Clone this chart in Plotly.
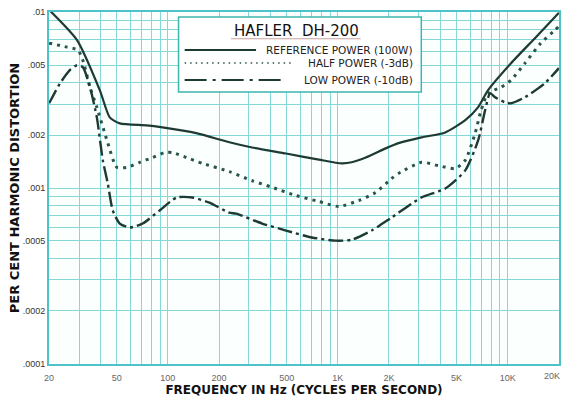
import numpy as np
import plotly.graph_objects as go

# ---------------- data ----------------
ref_freq = [20, 29.2, 39.8, 45.5, 52.1, 75, 93, 147, 230, 313, 496, 774, 1055, 1208,
            1460, 1910, 2277, 3105, 4290, 5625, 6700, 7660, 10450, 14450, 20000]
ref_thd = [0.0103, 0.00693, 0.00359, 0.00252, 0.00233, 0.00227, 0.00221, 0.00205, 0.00182,
           0.00170, 0.00157, 0.00145, 0.00138, 0.00140, 0.00149, 0.00168, 0.00180, 0.00194,
           0.00207, 0.00243, 0.00288, 0.00360, 0.00512, 0.00711, 0.0099]

half_freq = [20, 25.5, 29.6, 31.6, 34.8, 38.2, 43.8, 50.1, 57.3, 68.3, 81.3, 95.7, 106.5,
             128.6, 159.6, 230, 313, 410, 567, 774, 1014, 1328, 1668, 2069, 2277, 3105,
             3905, 4910, 5625, 6430, 6970, 7660, 9140, 10450, 12620, 15660, 18920, 20000]
half_thd = [0.00666, 0.00632, 0.00608, 0.00533, 0.00374, 0.00288, 0.00187, 0.00131, 0.00131,
            0.00140, 0.00149, 0.00159, 0.00159, 0.00149, 0.00138, 0.00124, 0.00110, 0.00101,
            0.000906, 0.000838, 0.000785, 0.000849, 0.000943, 0.00113, 0.00121, 0.00140,
            0.00134, 0.00129, 0.00144, 0.00205, 0.00277, 0.00346, 0.00374, 0.00410, 0.00512,
            0.00666, 0.00789, 0.0083]

low_freq = [20, 23.2, 26.5, 29.2, 31.6, 34.8, 38.2, 41.4, 44.3, 47.4, 52.1, 59.7, 71.1, 89.4,
            112.5, 139.5, 175.5, 230, 252.6, 359, 496, 704, 973, 1208, 1582, 2069, 3105,
            4290, 5625, 6700, 7360, 7870, 8425, 9630, 10450, 12620, 16530, 20000]
low_thd = [0.00303, 0.00394, 0.00468, 0.00499, 0.00486, 0.00374, 0.00252, 0.00144, 0.00106,
           0.000745, 0.000628, 0.000596, 0.000628, 0.000745, 0.000883, 0.000883, 0.000826,
           0.000724, 0.000715, 0.000628, 0.000573, 0.000523, 0.000502, 0.000508, 0.000573,
           0.000679, 0.000883, 0.000994, 0.00126, 0.00187, 0.00277, 0.00346, 0.00328,
           0.00307, 0.00303, 0.00328, 0.00394, 0.0048]

x_tick_vals = [20, 50, 100, 200, 500, 1000, 2000, 5000, 10000, 20000]
x_tick_text = ["20", "50", "100", "200", "500", "1K", "2K", "5K", "10K", "20K"]
y_tick_vals = [0.0001, 0.0002, 0.0005, 0.001, 0.002, 0.005, 0.01]
y_tick_text = [".0001", ".0002", ".0005", ".001", ".002", ".005", ".01"]

legend_title = "HAFLER  DH-200"
series_names = ["REFERENCE POWER (100W)", "HALF POWER (-3dB)", "LOW POWER (-10dB)"]

# ---------------- grid values ----------------
x_grid = [d * 10 ** e for e in range(1, 5) for d in range(1, 10)]
x_grid = [v for v in x_grid if 20 <= v <= 20000]
y_grid = [d * 10 ** e for e in range(-4, -1) for d in range(1, 10)]
y_grid = [v for v in y_grid if v <= 0.01 + 1e-12]

def tick_lists(grid, vals, texts):
    out = []
    for g in grid:
        lab = ""
        for v, t in zip(vals, texts):
            if abs(g - v) / v < 1e-6:
                lab = t
        out.append(lab)
    return grid, out

xg, xt = tick_lists(x_grid, x_tick_vals[:-1], x_tick_text[:-1])  # last label placed separately (edge)
yg, yt = tick_lists(y_grid, y_tick_vals, y_tick_text)

INK = "#1d3a33"
INK2 = "#2a5549"
GRID = "#86d8d8"
AXIS = "#4fc1c8"
TICKFONT_X = dict(family="Liberation Sans", size=9, color="#666666")

fig = go.Figure()
fig.add_trace(go.Scatter(x=ref_freq, y=ref_thd, mode="lines", name=series_names[0],
                         line=dict(color=INK, width=2.2, shape="spline", smoothing=0.6)))
fig.add_trace(go.Scatter(x=half_freq, y=half_thd, mode="lines", name=series_names[1],
                         line=dict(color=INK2, width=3, dash="3px,5px", shape="spline", smoothing=0.6)))
fig.add_trace(go.Scatter(x=low_freq, y=low_thd, mode="lines", name=series_names[2],
                         line=dict(color=INK, width=2.4, dash="15px,4px,3px,4px", shape="spline", smoothing=0.6)))

fig.update_xaxes(type="log", range=[np.log10(20) - 0.0005, np.log10(20000) + 0.0005],
                 tickmode="array", tickvals=xg, ticktext=xt,
                 showgrid=True, gridcolor=GRID, gridwidth=1,
                 showline=True, linecolor=AXIS, linewidth=2, mirror=True,
                 ticks="outside", ticklen=4, tickcolor="rgba(0,0,0,0)", tickfont=TICKFONT_X,
                 title=dict(text="<b>FREQUENCY IN Hz (CYCLES PER SECOND)</b>",
                            font=dict(family="DejaVu Sans", size=12, color="#111111"),
                            standoff=3),
                 zeroline=False)
fig.update_yaxes(type="log", range=[-4.0005, -1.9995],
                 tickmode="array", tickvals=yg, ticktext=yt,
                 showgrid=True, gridcolor=GRID, gridwidth=1,
                 showline=True, linecolor=AXIS, linewidth=2, mirror=True,
                 ticks="", tickfont=dict(family="Liberation Sans", size=9, color="#333333"),
                 title=dict(text="<b>PER CENT HARMONIC DISTORTION</b>",
                            font=dict(family="DejaVu Sans", size=13, color="#111111"),
                            standoff=0),
                 zeroline=False)

# ---------------- custom legend box ----------------
shapes = [
    dict(type="rect", xref="paper", yref="paper", x0=0.254, x1=0.730, y0=0.773, y1=0.986,
         line=dict(color="#3fb5b0", width=1.5), fillcolor="white", layer="above"),
    dict(type="line", xref="paper", yref="paper", x0=0.357, x1=0.611, y0=0.924, y1=0.924,
         line=dict(color="#c9a0a0", width=1), layer="above"),
    dict(type="line", xref="paper", yref="paper", x0=0.266, x1=0.406, y0=0.892, y1=0.892,
         line=dict(color=INK, width=2), layer="above"),
    dict(type="line", xref="paper", yref="paper", x0=0.266, x1=0.478, y0=0.855, y1=0.855,
         line=dict(color=INK2, width=1.5, dash="1.5px,4px"), layer="above"),
    dict(type="line", xref="paper", yref="paper", x0=0.266, x1=0.466, y0=0.807, y1=0.807,
         line=dict(color=INK, width=2, dash="22px,6px,3px,6px"), layer="above"),
]
annots = [
    dict(xref="paper", yref="paper", x=0.486, y=0.945, text=legend_title, showarrow=False,
         font=dict(family="DejaVu Sans", size=15, color="#111111"), xanchor="center", yanchor="middle"),
    dict(xref="paper", yref="paper", x=0.718, y=0.892, text=series_names[0], showarrow=False,
         font=dict(family="DejaVu Sans", size=10.5, color="#222222"), xanchor="right", yanchor="middle"),
    dict(xref="paper", yref="paper", x=0.718, y=0.855, text=series_names[1], showarrow=False,
         font=dict(family="DejaVu Sans", size=10.5, color="#222222"), xanchor="right", yanchor="middle"),
    dict(xref="paper", yref="paper", x=0.718, y=0.807, text=series_names[2], showarrow=False,
         font=dict(family="DejaVu Sans", size=10.5, color="#222222"), xanchor="right", yanchor="middle"),
    # last x tick label, kept inside the page at the right edge
    dict(xref="x", yref="paper", x=np.log10(x_tick_vals[-1]), y=0, text=x_tick_text[-1],
         showarrow=False, font=TICKFONT_X, xanchor="right", yanchor="top", xshift=3, yshift=-5),
]

fig.update_layout(width=565, height=400,
                  margin=dict(l=49, r=4, t=12, b=36),
                  paper_bgcolor="white", plot_bgcolor="#fbfffe",
                  showlegend=False, shapes=shapes, annotations=annots)

fig.write_html("out.html", config={"displayModeBar": False},
               post_script="document.body.style.margin='0';document.body.style.overflow='hidden';")
